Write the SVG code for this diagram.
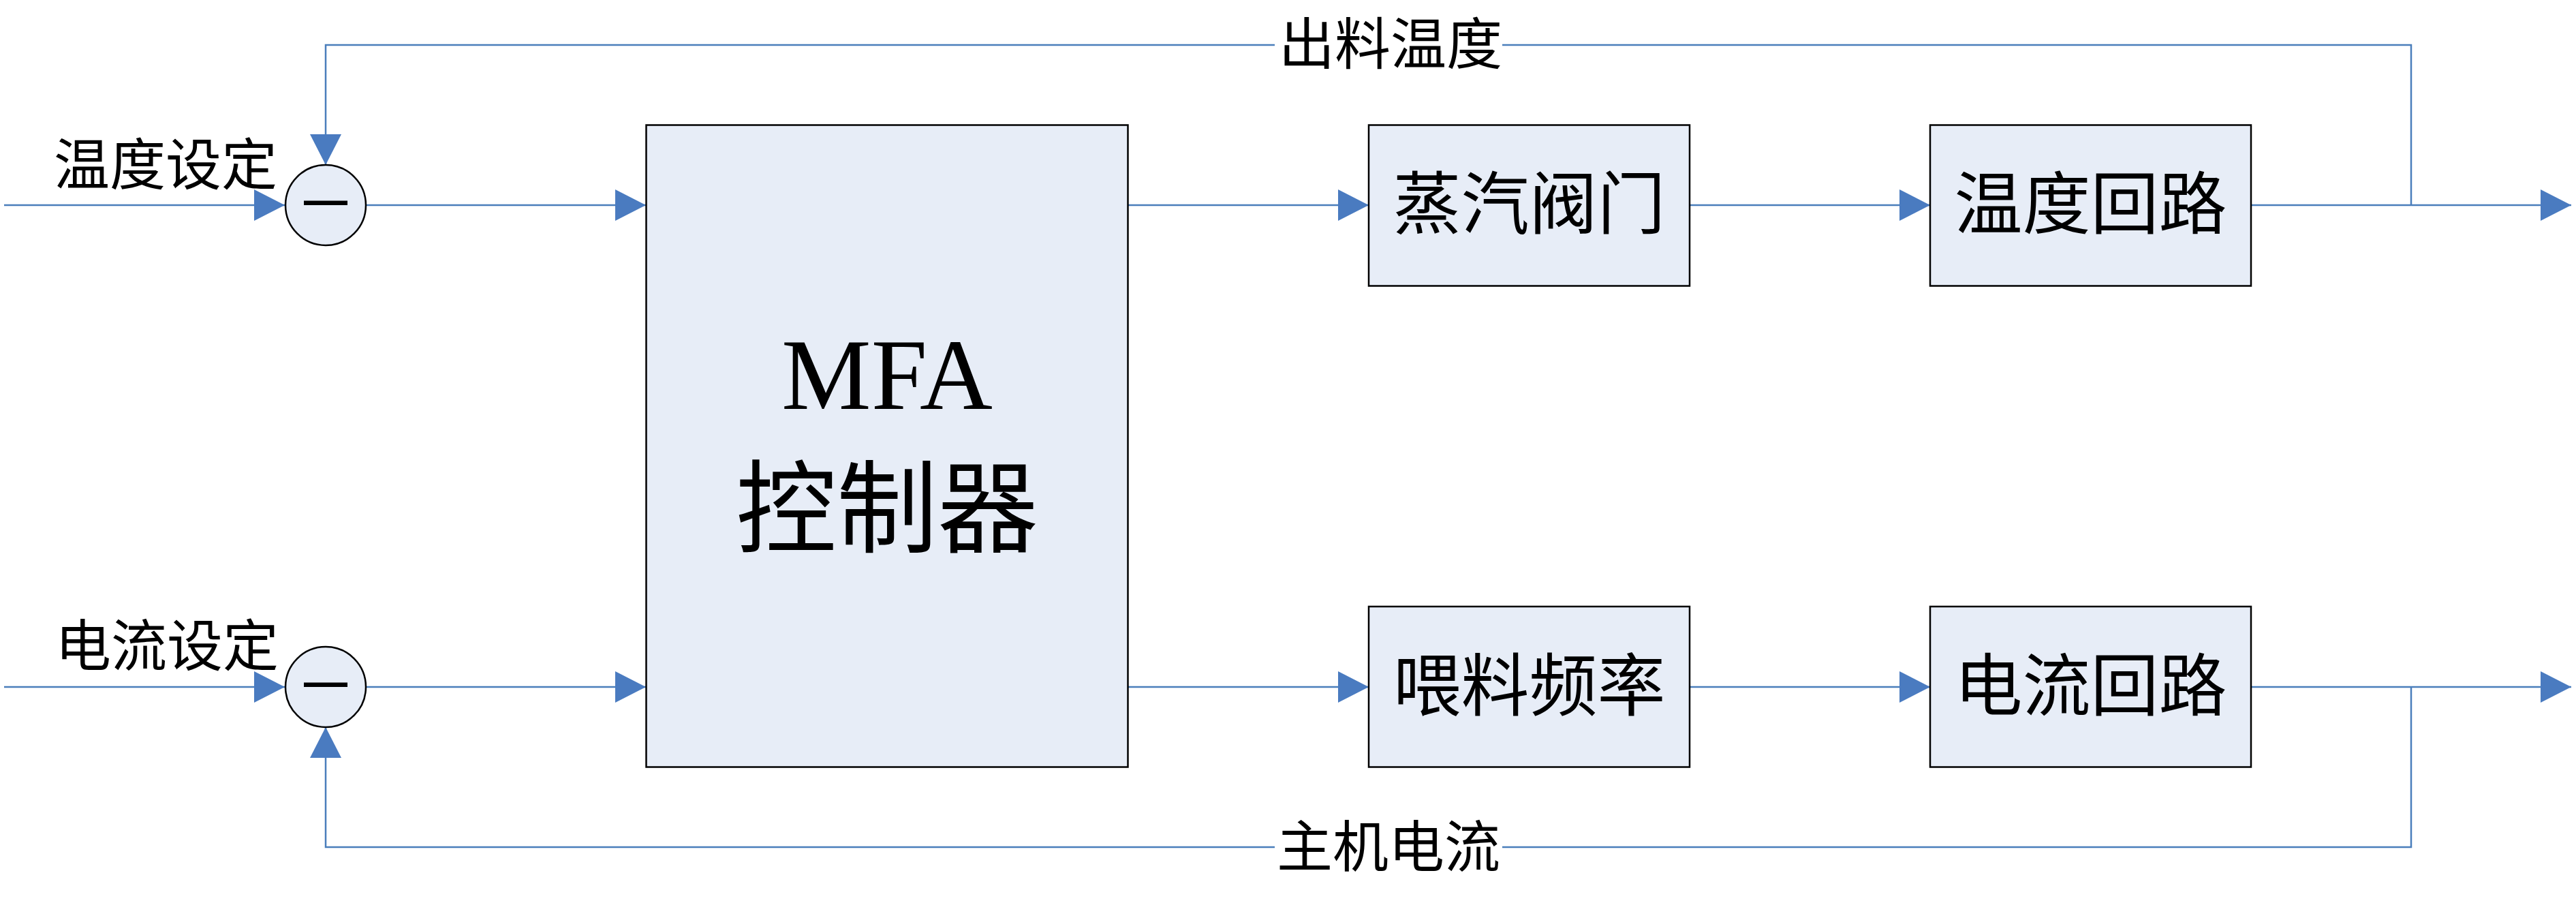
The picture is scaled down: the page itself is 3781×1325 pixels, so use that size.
<svg xmlns="http://www.w3.org/2000/svg" width="3781" height="1325" viewBox="0 0 3781 1325">
<style>
.bg{fill:#ffffff}
.box{fill:#E7EDF7;stroke:#000000;stroke-width:2.5}
.sum{fill:#E7EDF7;stroke:#000000;stroke-width:2.5}
.wire{fill:none;stroke:#4A7EBB;stroke-width:2.5}
.arr{marker-end:url(#ah)}
.cjk{font-family:"Noto Sans CJK SC","Noto Sans CJK JP",sans-serif;fill:#000000;text-anchor:middle}
.lat{font-family:"Liberation Serif","Times New Roman",serif;fill:#000000;text-anchor:middle}
.minus{font-family:"Liberation Sans",Arial,sans-serif;fill:#000000;text-anchor:middle;font-size:64px;font-weight:bold}
</style>
<defs>
<marker id="ah" markerUnits="userSpaceOnUse" markerWidth="46" markerHeight="46" refX="45" refY="23" orient="auto" viewBox="0 0 46 46">
<path d="M0,0 L45,23 L0,46 Z" fill="#4A7BC0"/>
</marker>
</defs>
<rect class="bg" x="0" y="0" width="3781" height="1325"/>
<g id="connectors">
<path class="wire arr" d="M6,301 H418"/>
<path class="wire arr" d="M537,301 H948"/>
<path class="wire arr" d="M1656,301 H2009"/>
<path class="wire arr" d="M2480,301 H2833"/>
<path class="wire arr" d="M3304,301 H3774"/>
<path class="wire" d="M3539,301 V66 H2205"/>
<path class="wire arr" d="M1871,66 H478 V242"/>
<path class="wire arr" d="M6,1008 H418"/>
<path class="wire arr" d="M537,1008 H948"/>
<path class="wire arr" d="M1656,1008 H2009"/>
<path class="wire arr" d="M2480,1008 H2833"/>
<path class="wire arr" d="M3304,1008 H3774"/>
<path class="wire" d="M3539,1008 V1243 H2205"/>
<path class="wire arr" d="M1871,1243 H478 V1067"/>
</g>
<g id="label-top">
<text class="cjk" x="2041" y="94" font-size="82">出料温度</text>
</g>
<g id="label-bottom">
<text class="cjk" x="2038" y="1272" font-size="82">主机电流</text>
</g>
<g id="label-temp-set">
<text class="cjk" x="243" y="271" font-size="82">温度设定</text>
</g>
<g id="label-current-set">
<text class="cjk" x="245" y="977" font-size="82">电流设定</text>
</g>
<g id="sum-top">
<circle class="sum" cx="478" cy="301" r="59"/>
<text class="minus" x="478" y="315">—</text>
</g>
<g id="sum-bottom">
<circle class="sum" cx="478" cy="1008" r="59"/>
<text class="minus" x="478" y="1022">—</text>
</g>
<g id="mfa">
<rect class="box" x="948.5" y="183.5" width="707" height="942"/>
<text class="lat" x="1302" y="600" font-size="148">MFA</text>
<text class="cjk" x="1302" y="799" font-size="148">控制器</text>
</g>
<g id="steam-valve">
<rect class="box" x="2009" y="183.5" width="471" height="236"/>
<text class="cjk" x="2244.5" y="335" font-size="100">蒸汽阀门</text>
</g>
<g id="temp-loop">
<rect class="box" x="2833" y="183.5" width="471" height="236"/>
<text class="cjk" x="3068.5" y="335" font-size="100">温度回路</text>
</g>
<g id="feed-freq">
<rect class="box" x="2009" y="890" width="471" height="235.5"/>
<text class="cjk" x="2244.5" y="1042" font-size="100">喂料频率</text>
</g>
<g id="current-loop">
<rect class="box" x="2833" y="890" width="471" height="235.5"/>
<text class="cjk" x="3068.5" y="1042" font-size="100">电流回路</text>
</g>
</svg>
